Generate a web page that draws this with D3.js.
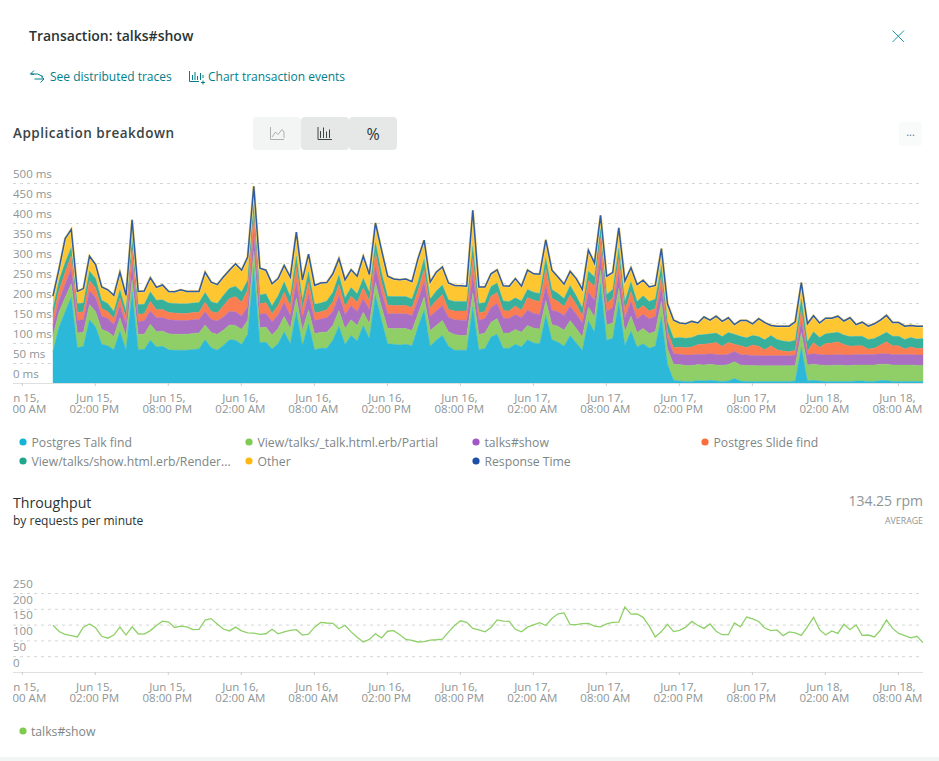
<!DOCTYPE html>
<html>
<head>
<meta charset="utf-8">
<script src="https://cdn.jsdelivr.net/npm/d3@7/dist/d3.min.js"></script>
<style>
html,body{margin:0;padding:0;background:#fff;overflow:hidden}
svg{display:block}
text{font-family:"Open Sans",sans-serif}
</style>
</head>
<body>
<svg id="c" width="939" height="761"></svg>
<script>
const startTime = Date.UTC(2020,5,15,10,34);
const stepMinutes = 30;
const msTicks = [0,50,100,150,200,250,300,350,400,450,500];
const rpmTicks = [0,50,100,150,200,250];
const tickHours = [8,14,20,26,32,38,44,50,56,62,68,74,80];
const tickLine1 = ["Jun 15,","Jun 15,","Jun 15,","Jun 16,","Jun 16,","Jun 16,","Jun 16,","Jun 17,","Jun 17,","Jun 17,","Jun 17,","Jun 18,","Jun 18,"];
const tickLine2 = ["08:00 AM","02:00 PM","08:00 PM","02:00 AM","08:00 AM","02:00 PM","08:00 PM","02:00 AM","08:00 AM","02:00 PM","08:00 PM","02:00 AM","08:00 AM"];

const postgresTalk = [
78,140,178,215,88,92,158,140,97,93,83,130,
82,228,84,84,107,90,92,83,82,82,82,84,
85,108,88,82,94,108,107,96,122,290,101,102,
85,98,128,98,178,94,148,83,87,87,107,142,
96,119,105,144,111,219,157,98,97,95,97,93,
140,182,92,107,119,92,82,82,82,190,83,86,
115,122,86,87,97,90,108,100,98,169,108,102,
92,119,100,82,155,128,248,107,112,202,94,130,
90,98,87,92,165,47,7,5,4,4,6,5,
7,5,4,5,11,5,4,4,4,4,4,4,
4,4,5,90,5,7,5,4,4,4,4,4,
5,5,4,4,6,6,4,4,4,4,4,4];
const viewPartial = [
40,38,36,33,37,35,38,38,37,35,33,33,
35,30,38,38,40,38,38,40,40,40,40,40,
40,37,38,40,38,37,37,38,35,40,37,38,
35,38,38,38,35,38,35,40,40,40,37,39,
40,39,39,33,37,33,33,38,39,41,39,38,
33,33,39,37,37,36,39,37,37,35,38,39,
37,39,39,38,37,37,36,37,37,37,38,40,
40,37,36,33,35,37,35,38,38,35,34,37,
36,38,37,37,40,38,40,41,40,40,40,40,
40,40,40,41,42,40,40,40,39,39,39,39,
39,39,39,36,40,40,40,40,40,41,40,40,
40,40,41,41,41,41,41,41,41,41,40,40];
const talksShow = [
27,28,33,37,31,32,35,35,33,33,30,30,
30,38,32,33,33,35,34,35,35,34,34,34,
34,33,33,33,33,34,34,33,34,45,34,34,
33,34,35,32,38,32,38,33,33,36,35,37,
35,35,35,33,35,38,36,37,37,37,37,37,
34,38,35,36,37,36,37,38,38,45,36,36,
37,38,37,36,37,36,38,37,36,38,36,36,
37,36,36,35,36,42,36,34,38,36,34,36,
34,36,36,37,36,30,26,26,26,26,26,26,
26,26,26,26,26,26,26,25,25,25,25,25,
25,25,26,27,26,26,26,26,26,26,26,26,
26,26,26,26,26,26,26,26,26,26,26,26];
const postgresSlide = [
21,26,30,33,21,19,25,24,19,18,15,20,
15,38,18,18,24,20,20,18,18,18,18,18,
18,24,20,20,28,32,38,35,42,48,26,27,
20,24,26,24,40,22,32,19,18,20,24,28,
20,24,22,28,22,36,26,22,21,21,21,20,
24,30,22,26,28,20,22,23,23,42,18,18,
28,27,19,19,22,18,32,33,33,42,30,26,
22,28,24,18,30,34,44,20,24,38,20,26,
22,22,20,20,26,14,15,18,18,20,24,26,
26,30,22,29,18,22,19,26,24,15,25,15,
12,10,12,30,8,28,18,29,30,32,26,22,
22,22,14,16,22,30,22,22,14,19,16,17];
const viewRender = [
21,24,24,21,22,22,24,24,21,20,18,20,
18,34,24,24,24,24,24,24,24,24,24,24,
24,24,24,24,26,26,26,26,24,32,22,22,
20,24,26,24,26,22,25,22,22,22,24,24,
22,22,22,24,22,26,24,22,22,22,22,22,
22,28,22,24,24,24,24,24,24,30,24,22,
24,24,24,24,20,24,20,20,20,26,22,20,
20,24,22,20,24,24,28,22,22,26,22,24,
22,24,24,24,26,24,24,24,24,24,24,24,
24,24,24,25,25,24,24,24,24,25,26,26,
25,25,25,28,24,27,25,24,25,24,24,24,
24,24,24,24,24,24,24,24,24,24,24,24];
const responseTime = [
217,286,361,384,229,236,317,296,240,233,219,277,
219,408,229,230,263,239,245,229,228,233,229,229,
229,277,252,246,265,282,298,282,315,492,287,282,
248,261,294,265,377,258,322,244,250,251,273,311,
258,283,267,317,271,400,332,267,260,258,260,253,
311,357,252,277,290,250,244,243,242,432,240,240,
273,283,243,242,261,242,282,273,272,358,282,265,
247,279,261,234,332,300,419,267,276,388,255,288,
246,257,240,244,336,198,157,150,148,154,150,165,
157,167,154,163,146,156,156,148,161,151,144,142,
142,142,153,251,148,168,150,162,162,167,155,163,
146,152,142,148,157,169,151,151,142,144,142,142];
const throughput = [
148,128,119,115,111,142,152,140,113,107,117,142,
117,143,121,120,131,147,161,158,141,145,143,134,
135,164,169,152,136,130,142,130,124,123,119,121,
135,121,127,132,134,117,120,142,157,155,154,137,
148,127,110,95,103,121,108,129,131,118,103,100,
95,96,101,102,104,126,147,162,157,138,133,127,
141,165,161,160,135,127,142,149,156,147,169,184,
187,150,150,153,154,145,143,152,157,158,206,183,
184,173,145,111,128,151,128,132,142,160,147,138,
152,129,118,118,155,143,174,168,160,139,131,133,
115,127,124,116,143,173,134,117,130,122,151,134,
149,116,117,111,132,165,138,122,115,108,113,93];

const layerNames = ["Postgres Talk find","View/talks/_talk.html.erb/Partial","talks#show","Postgres Slide find","View/talks/show.html.erb/Render...","Other","Response Time"];
const layerFill = ["#2cb8d9","#90cf68","#aa6ec3","#fb7d52","#37b09c","#fec630"];
const legendDots = ["#12b5d8","#7fcb50","#a257c6","#fb6d3c","#1fa68e","#fdb912","#1d4fa6"];

const svg = d3.select("#c");
const teal = "#007e8a";
const t0 = new Date(startTime);
const time = i => new Date(startTime + i*stepMinutes*60000);
const tickDates = tickHours.map(h => new Date(Date.UTC(2020,5,15,h)));
const x = d3.scaleUtc().domain([t0, time(143)]).range([53,923]);
const yMs = d3.scaleLinear().domain([0,500]).range([383,183]);
const yRpm = d3.scaleLinear().domain([0,250]).range([672,593]);

svg.append("defs").append("clipPath").attr("id","axclip").append("rect")
  .attr("x",13).attr("y",380).attr("width",920).attr("height",340);

// page foot
svg.append("rect").attr("x",0).attr("y",757).attr("width",939).attr("height",4).attr("fill","#f3f4f4");

function label(xp,yp,s,size,fill,weight,anchor,ls){
  return svg.append("text").attr("x",xp).attr("y",yp).text(s)
    .attr("font-size",size).attr("fill",fill).attr("font-weight",weight||400)
    .attr("text-anchor",anchor||"start").attr("letter-spacing",ls||0);
}
label(29,41,"Transaction: talks#show",14,"#2a3434",600);
label(50,81,"See distributed traces",12,teal);
label(208,81,"Chart transaction events",12,teal);
label(13,138,"Application breakdown",13.5,"#3a4444",600,"start",.5);
label(13,508,"Throughput",14.2,"#2a3434",500);
label(13,525,"by requests per minute",12,"#2a3434");
label(923,506,"134.25 rpm",14,"#8e9595",400,"end");
label(923,524,"AVERAGE",8.8,"#8e9595",400,"end");

// icons
const icon = (d,c,w) => svg.append("path").attr("d",d).attr("fill","none").attr("stroke",c).attr("stroke-width",w||1);
icon("M892.5 30.5L904 42M904 30.5L892.5 42","#1f97a3",1);
icon("M34 70.500L30.500 74H37.500L43 76.500M34 74.500L30.500 74M34.500 79H44M40.500 82.500L44 79L41 76.500",teal,1);
icon("M189.500 71V81.500H199M192.500 80V75M195 80V72M197.500 80V76M200.500 80V73M203 78V75M203 80.500V84.500M201 82.500H205",teal,1);

// buttons
[[253,"#f3f4f4"],[301,"#e6e8e8"],[349,"#e6e8e8"]].forEach(b=>{
  svg.append("rect").attr("x",b[0]).attr("y",117).attr("width",48).attr("height",33).attr("rx",4).attr("fill",b[1]);
});
icon("M270.500 127V139.500H284M272 137L275.500 132L278 134.500L282 129.500L284 132V138",'#a4a9a9',.9);
icon("M318 127V139.500H332M320.500 138V131M323.500 138V127.500M326.500 138V131.500M329.500 138V129.500",'#2a3434',.9);
label(373,140,"%",16,"#2a3434",500,"middle");
svg.append("rect").attr("x",899).attr("y",122).attr("width",23).attr("height",24).attr("rx",3).attr("fill","#f9fafa");
label(910.500,136,"...",11,"#6a7473",400,"middle");

// chart: gridlines and labels
function yAxis(scale,ticks,fmt,g){
  const a = d3.axisRight(scale).tickValues(ticks).tickSize(909).tickFormat(fmt);
  g.attr("transform","translate(13,0)").call(a);
  g.select(".domain").remove();
  g.selectAll(".tick line").attr("stroke","#d3d6d6").attr("stroke-dasharray","3,4")
    .attr("display",d=>d===0?"none":null);
  g.selectAll(".tick text").attr("x",0).attr("dy","-5.8").attr("text-anchor","start")
    .attr("font-family",'"Open Sans",sans-serif').attr("font-size",11.5).attr("fill","#8e9595");
}
yAxis(yMs,msTicks,d=>d+" ms",svg.append("g"));
yAxis(yRpm,rpmTicks,d=>d,svg.append("g"));

function xAxis(yPos){
  const g = svg.append("g").attr("clip-path","url(#axclip)").append("g").attr("transform",`translate(0,${yPos})`);
  g.call(d3.axisBottom(x).tickValues(tickDates).tickSize(3).tickPadding(0).tickFormat(""));
  g.select(".domain").attr("stroke","#dfe1e1").attr("d","M13,0.5H923");
  g.selectAll(".tick line").attr("stroke","#c9cccc");
  g.selectAll(".tick").each(function(d,i){
    const t = d3.select(this).select("text").attr("x",-1).attr("y",0).attr("dy",0).attr("text-anchor","middle")
      .attr("font-family",'"Open Sans",sans-serif').attr("font-size",11.5).attr("fill","#8e9595");
    t.append("tspan").attr("x",-1).attr("y",19).text(tickLine1[i]);
    t.append("tspan").attr("x",-1).attr("y",30).text(tickLine2[i]);
  });
}

// stacked areas
const keys = ["a","b","c","d","e"];
const table = postgresTalk.map((v,i)=>({i,a:v,b:viewPartial[i],c:talksShow[i],d:postgresSlide[i],e:viewRender[i]}));
const series = d3.stack().keys(keys)(table);
const area = d3.area().x(d=>x(time(d.data.i))).y0(d=>yMs(d[0])).y1(d=>yMs(d[1]));
const stackTop = series[4];
svg.append("path").datum(responseTime)
  .attr("fill",layerFill[5]).attr("stroke","#ffe9a8").attr("stroke-width",.5)
  .attr("d",d3.area().x((d,i)=>x(time(i))).y0((d,i)=>yMs(stackTop[i][1])).y1(d=>yMs(d)));
series.slice().reverse().forEach(s=>{
  svg.append("path").datum(s).attr("fill",layerFill[s.index]).attr("stroke",layerFill[s.index]).attr("stroke-width",.4).attr("d",area);
});
svg.append("path").datum(responseTime).attr("fill","none").attr("stroke","#ffdc7a").attr("stroke-width",2.6)
  .attr("d",d3.line().x((d,i)=>x(time(i))).y(d=>yMs(d)));
svg.append("path").datum(responseTime).attr("fill","none").attr("stroke","#2f5ca3").attr("stroke-width",1.5)
  .attr("d",d3.line().x((d,i)=>x(time(i))).y(d=>yMs(d)));
xAxis(383);

// throughput line
svg.append("path").datum(throughput).attr("fill","none").attr("stroke","#8fd068").attr("stroke-width",1.3)
  .attr("d",d3.line().x((d,i)=>x(time(i))).y(d=>yRpm(d)));
xAxis(672);

// legends
const legendX = [23,249,476,705,23,249,476];
const legendY = [442,442,442,442,461,461,461];
layerNames.forEach((n,i)=>{
  svg.append("circle").attr("cx",legendX[i]).attr("cy",legendY[i]).attr("r",3.6).attr("fill",legendDots[i]);
  label(legendX[i]+8.5,legendY[i]+5,n,12.2,"#7e8686");
});
svg.append("circle").attr("cx",23).attr("cy",731).attr("r",3.6).attr("fill","#7fcb50");
label(31,736,"talks#show",12.2,"#7e8686");
</script>
</body>
</html>
